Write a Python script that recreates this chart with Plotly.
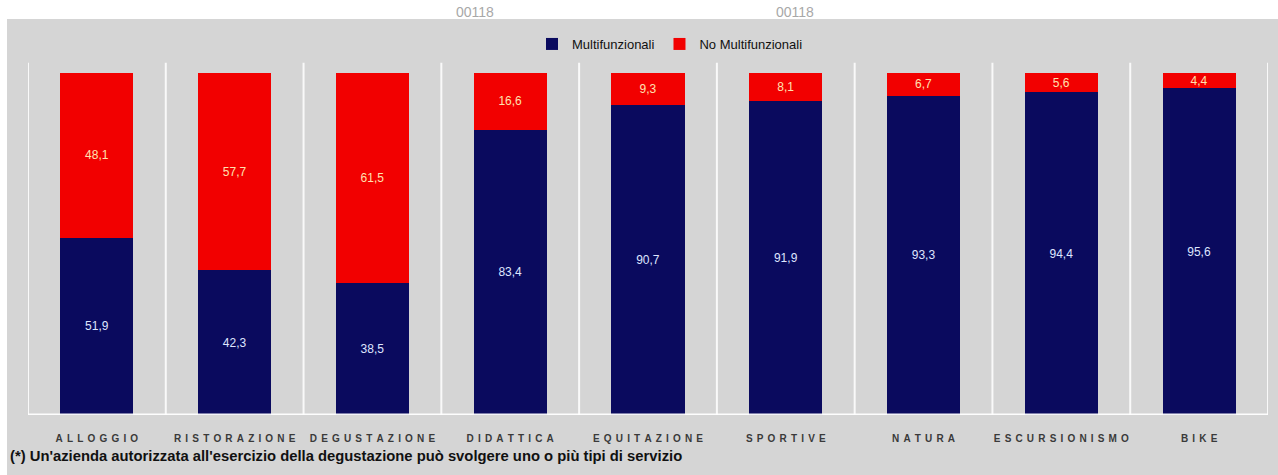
import plotly.graph_objects as go

categories = ["ALLOGGIO", "RISTORAZIONE", "DEGUSTAZIONE", "DIDATTICA", "EQUITAZIONE",
              "SPORTIVE", "NATURA", "ESCURSIONISMO", "BIKE"]
multifunzionali = [51.9, 42.3, 38.5, 83.4, 90.7, 91.9, 93.3, 94.4, 95.6]
no_multifunzionali = [48.1, 57.7, 61.5, 16.6, 9.3, 8.1, 6.7, 5.6, 4.4]
tick_labels = ["\u2004\u200a".join(c) for c in categories]

NAVY = "#0a0a5e"
RED = "#f20000"
BG = "#d5d5d5"

fig = go.Figure()
fig.add_trace(go.Bar(
    x=categories, y=multifunzionali, name="Multifunzionali",
    marker=dict(color=NAVY, line=dict(width=0)),
    texttemplate="%{y:.1f}", textposition="inside", insidetextanchor="middle",
    textfont=dict(family="Liberation Sans, Arial", size=12, color="#dfe6ff"),
))
fig.add_trace(go.Bar(
    x=categories, y=no_multifunzionali, name="No Multifunzionali",
    marker=dict(color=RED, line=dict(width=0)),
    texttemplate="%{y:.1f}", textposition="inside", insidetextanchor="middle",
    textfont=dict(family="Liberation Sans, Arial", size=12, color="#ffe2b0"),
))

shapes = []
# white top strip and left strip
shapes.append(dict(type="rect", xref="paper", yref="paper", x0=-0.1, x1=1.1,
                   y0=(415 - 19) / 342, y1=1.3, fillcolor="white", line=dict(width=0), layer="below"))
shapes.append(dict(type="rect", xref="paper", yref="paper", x0=-0.1, x1=(7 - 28) / 1240,
                   y0=-0.5, y1=1.3, fillcolor="white", line=dict(width=0), layer="below"))
# vertical separators
for i in range(len(categories) + 1):
    shapes.append(dict(type="line", xref="x", yref="paper", x0=i - 0.5, x1=i - 0.5,
                       y0=0, y1=1.03, line=dict(color="rgba(255,255,255,0.85)", width=2), layer="below"))
# baseline
shapes.append(dict(type="line", xref="paper", yref="y", x0=0, x1=1, y0=0, y1=0,
                   line=dict(color="rgba(255,255,255,0.95)", width=3), layer="above"))

annotations = [
    dict(text="(*) Un'azienda autorizzata all'esercizio della degustazione può svolgere uno o più tipi di servizio",
         xref="paper", yref="paper", x=(8 - 28) / 1240, y=(415 - 456) / 342,
         xanchor="left", yanchor="middle", showarrow=False,
         font=dict(family="Liberation Sans, Arial", size=14.8, color="#111", weight="bold")),
    dict(text="00118", xref="paper", yref="paper", x=(475 - 28) / 1240, y=(415 - 12) / 342,
         xanchor="center", yanchor="middle", showarrow=False,
         font=dict(family="Liberation Sans, Arial", size=14, color="#a8a8a8")),
    dict(text="00118", xref="paper", yref="paper", x=(795 - 28) / 1240, y=(415 - 12) / 342,
         xanchor="center", yanchor="middle", showarrow=False,
         font=dict(family="Liberation Sans, Arial", size=14, color="#a8a8a8")),
]

fig.update_layout(
    width=1278, height=475,
    barmode="stack", bargap=0.47,
    separators=",.",
    uniformtext=dict(minsize=12, mode="show"),
    paper_bgcolor=BG, plot_bgcolor=BG,
    margin=dict(l=28, r=10, t=73, b=60),
    showlegend=True,
    legend=dict(orientation="h", x=(670 - 28) / 1240, y=(415 - 44) / 342,
                xanchor="center", yanchor="middle", bgcolor="rgba(0,0,0,0)",
                font=dict(family="Liberation Sans, Arial", size=13, color="#111"),
                itemwidth=30, traceorder="normal"),
    xaxis=dict(tickmode="array", tickvals=categories, ticktext=tick_labels,
               tickfont=dict(family="Liberation Sans, Arial", size=10, color="#3a3a3a", weight="bold"),
               showgrid=False, zeroline=False, showline=False, ticks="",
               ticklabelstandoff=16, range=[-0.5, len(categories) - 0.5]),
    yaxis=dict(range=[0, 100], visible=False, showgrid=False, zeroline=False),
    shapes=shapes,
    annotations=annotations,
)

fig.write_html("out.html")
